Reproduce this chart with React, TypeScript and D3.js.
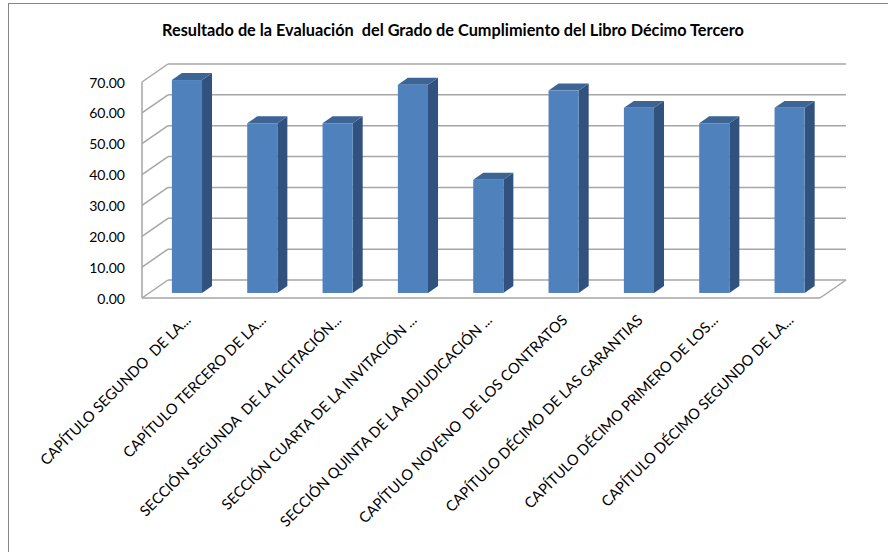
import React from "react";
import * as d3 from "d3";

const categories = [
  "CAPÍTULO SEGUNDO  DE LA...",
  "CAPÍTULO TERCERO DE LA...",
  "SECCIÓN SEGUNDA  DE LA LICITACIÓN...",
  "SECCIÓN CUARTA DE LA INVITACIÓN ...",
  "SECCIÓN QUINTA DE LA ADJUDICACIÓN ...",
  "CAPÍTULO NOVENO  DE LOS CONTRATOS",
  "CAPÍTULO DÉCIMO DE LAS GARANTIAS",
  "CAPÍTULO DÉCIMO PRIMERO DE LOS...",
  "CAPÍTULO DÉCIMO SEGUNDO DE LA...",
];
const values = [69.0, 55.0, 55.0, 67.5, 36.7, 65.6, 60.0, 55.0, 60.0];
const yTicks = [0, 10, 20, 30, 40, 50, 60, 70];
const title = "Resultado de la Evaluación  del Grado de Cumplimiento del Libro Décimo Tercero";

const W = 888;
const H = 552;

// 3D box geometry: front floor edge and depth offset of the back wall
const left = 142;
const right = 820;
const DX = 26;
const DY = 18;
const barFront = 0.28; // depth fraction where bar front faces sit
const barDepth = 0.385; // depth fraction covered by each bar

const y = d3.scaleLinear().domain([0, 70]).range([298, 82]);
const x = d3
  .scaleBand<string>()
  .domain(categories)
  .range([left, right])
  .paddingInner(0.6)
  .paddingOuter(0.3);

const fmt = d3.format(".2f");
const font = "Lato, 'Open Sans', sans-serif";

export default function App() {
  const bw = x.bandwidth();
  const bdx = DX * barDepth;
  const bdy = DY * barDepth;
  const offX = DX * barFront;
  const offY = DY * barFront;

  return (
    <svg width={W} height={H} style={{ position: "absolute", left: 0, top: 0, display: "block" }}>
      <rect x={0} y={0} width={W} height={H} fill="#fff" />
      <rect x={8.5} y={3.5} width={W + 20} height={H + 20} fill="none" stroke="#868686" strokeWidth={1} />

      <text
        x={453}
        y={36}
        textAnchor="middle"
        fontFamily={font}
        fontWeight="bold"
        fontSize={16.3}
        fill="#000"
        style={{ whiteSpace: "pre" }}
      >
        {title}
      </text>

      {/* back wall and side wall gridlines */}
      <g stroke="#a6a6a6" strokeWidth={1.5} fill="none">
        {yTicks.map((t) => (
          <g key={t}>
            <line x1={left + DX} x2={right + DX} y1={y(t) - DY} y2={y(t) - DY} />
            <line x1={left} x2={left + DX} y1={y(t)} y2={y(t) - DY} />
          </g>
        ))}
        <line x1={left} x2={left} y1={y(70)} y2={y(0)} />
        <line x1={left} x2={right} y1={y(0)} y2={y(0)} />
        <line x1={right} x2={right + DX} y1={y(0)} y2={y(0) - DY} />
      </g>

      {/* columns */}
      {categories.map((c, i) => {
        const x0 = (x(c) as number) + offX;
        const yb = y(0) - offY;
        const yt = y(values[i]) - offY;
        const x1 = x0 + bw;
        return (
          <g key={c}>
            <polygon
              points={`${x1},${yt} ${x1 + bdx},${yt - bdy} ${x1 + bdx},${yb - bdy} ${x1},${yb}`}
              fill="#31527f"
            />
            <polygon
              points={`${x0},${yt} ${x0 + bdx},${yt - bdy} ${x1 + bdx},${yt - bdy} ${x1},${yt}`}
              fill="#3c6495"
            />
            <rect x={x0} y={yt} width={bw} height={yb - yt} fill="#4f81bd" />
          </g>
        );
      })}

      {/* value axis labels */}
      {yTicks.map((t) => (
        <text
          key={t}
          x={125}
          y={y(t) + 2}
          textAnchor="end"
          dominantBaseline="middle"
          fontFamily={font}
          fontSize={14}
          fill="#000"
        >
          {fmt(t)}
        </text>
      ))}

      {/* category labels */}
      {categories.map((c) => {
        const cx = (x(c) as number) + bw / 2 + 12;
        const cy = 321;
        return (
          <text
            key={c}
            transform={`translate(${cx},${cy}) rotate(-45)`}
            textAnchor="end"
            fontFamily={font}
            fontSize={14.7}
            fill="#000"
            style={{ whiteSpace: "pre" }}
          >
            {c}
          </text>
        );
      })}
    </svg>
  );
}
